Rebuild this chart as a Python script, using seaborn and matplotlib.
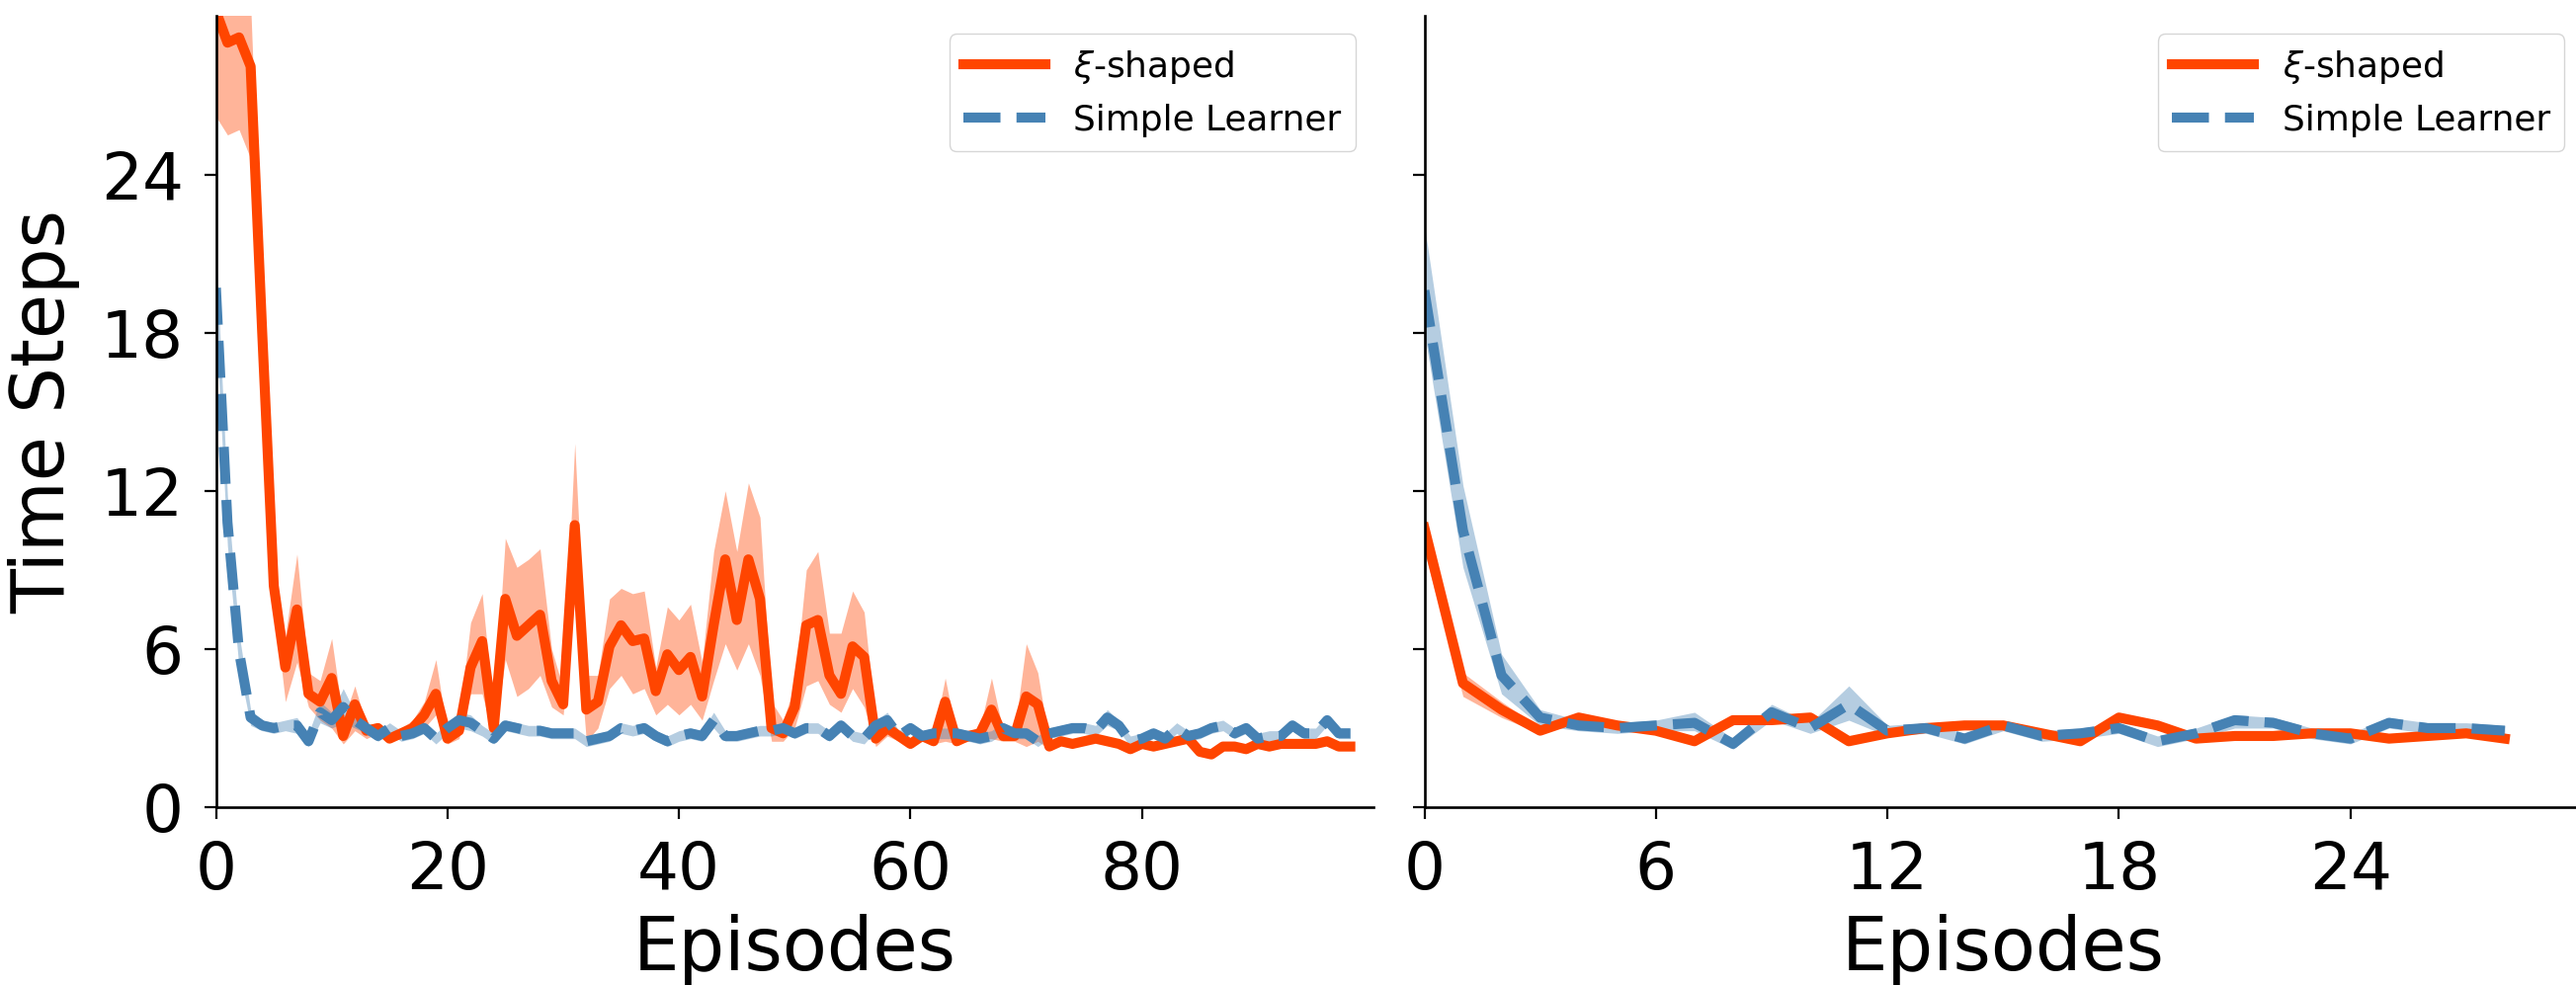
import numpy as np
import pandas as pd
import matplotlib
matplotlib.use("Agg")
import matplotlib.pyplot as plt
import seaborn as sns

# ---------------- data ----------------
labels = [r"$\xi$-shaped", "Simple Learner"]
colors = ["#FF4500", "#4682B4"]

# left panel: episodes 0..98
red_mid_L = [30.2, 29.0, 29.2, 28.1, 18.0, 8.4, 5.3, 7.5, 4.3, 4.0,
             4.9, 2.7, 3.9, 2.9, 3.0, 2.6, 2.8, 3.0, 3.5, 4.3,
             2.6, 2.9, 5.3, 6.3, 3.0, 7.9, 6.5, 6.9, 7.3, 4.8,
             3.9, 10.7, 3.7, 4.0, 6.1, 6.9, 6.3, 6.4, 4.4, 5.8,
             5.2, 5.7, 4.2, 6.9, 9.4, 7.1, 9.4, 7.9, 3.0, 2.8,
             3.8, 6.9, 7.1, 5.0, 4.3, 6.1, 5.7, 2.6, 3.0, 2.7,
             2.4, 2.7, 2.5, 4.0, 2.5, 2.7, 2.8, 3.7, 2.7, 2.7,
             4.2, 3.9, 2.3, 2.5, 2.4, 2.5, 2.6, 2.5, 2.4, 2.2,
             2.4, 2.3, 2.4, 2.5, 2.6, 2.1, 2.0, 2.3, 2.3, 2.2,
             2.4, 2.3, 2.4, 2.4, 2.4, 2.4, 2.5, 2.3, 2.3]
red_lo_L = [26.2, 25.5, 25.7, 24.6, 17.0, 7.8, 4.0, 5.5, 3.8, 3.3,
            3.0, 2.4, 2.9, 2.6, 2.8, 2.5, 2.6, 2.7, 3.0, 3.5,
            2.4, 2.6, 4.3, 4.3, 2.6, 5.6, 4.2, 4.5, 5.0, 3.8,
            3.5, 8.0, 2.5, 3.0, 4.5, 5.0, 4.3, 4.5, 3.5, 3.9,
            3.5, 3.9, 3.3, 4.8, 6.2, 5.2, 6.2, 5.0, 2.5, 2.5,
            3.0, 4.6, 4.8, 3.9, 3.6, 4.5, 3.8, 2.3, 2.7, 2.5,
            2.3, 2.5, 2.4, 2.5, 2.4, 2.5, 2.6, 2.6, 2.5, 2.5,
            2.3, 2.5, 2.2, 2.4, 2.3, 2.4, 2.5, 2.4, 2.3, 2.1,
            2.3, 2.2, 2.3, 2.4, 2.5, 2.0, 1.9, 2.2, 2.2, 2.1,
            2.3, 2.2, 2.3, 2.3, 2.3, 2.3, 2.4, 2.2, 2.2]
red_hi_L = [32.0, 32.0, 32.0, 30.5, 19.0, 9.0, 6.5, 9.6, 5.1, 4.8,
            6.4, 3.3, 4.6, 3.1, 3.2, 2.7, 3.0, 3.3, 4.0, 5.6,
            2.8, 3.3, 7.0, 8.1, 3.5, 10.2, 9.1, 9.4, 9.8, 6.0,
            4.5, 13.8, 5.0, 5.0, 7.9, 8.3, 8.1, 8.2, 5.3, 7.6,
            7.1, 7.7, 5.5, 9.7, 12.0, 9.7, 12.3, 11.0, 4.0, 3.3,
            4.6, 9.0, 9.7, 6.6, 6.6, 8.2, 7.4, 3.2, 3.4, 2.9,
            2.6, 2.9, 2.7, 4.9, 2.7, 2.9, 3.0, 4.9, 2.9, 2.9,
            6.2, 5.1, 2.4, 2.6, 2.5, 2.6, 2.7, 2.6, 2.5, 2.3,
            2.5, 2.4, 2.5, 2.6, 2.7, 2.2, 2.1, 2.4, 2.4, 2.3,
            2.5, 2.4, 2.5, 2.5, 2.5, 2.5, 2.6, 2.4, 2.4]

blue_mid_L = [19.7, 10.8, 5.9, 3.4, 3.1, 3.0, 3.1, 3.1, 2.5, 3.6,
              3.3, 3.8, 3.3, 3.0, 2.7, 3.0, 2.7, 2.8, 3.0, 2.6,
              3.0, 3.3, 3.2, 2.9, 2.6, 3.1, 3.0, 2.9, 2.9, 2.8,
              2.8, 2.8, 2.5, 2.6, 2.7, 3.0, 2.9, 3.0, 2.7, 2.5,
              2.7, 2.8, 2.7, 3.3, 2.7, 2.7, 2.8, 2.9, 2.9, 3.0,
              2.8, 3.0, 3.0, 2.7, 3.1, 2.7, 2.6, 3.1, 3.3, 2.7,
              3.0, 2.7, 2.8, 2.8, 2.8, 2.7, 2.6, 2.7, 3.0, 2.8,
              2.8, 2.5, 2.8, 2.9, 3.0, 3.0, 2.9, 3.4, 3.1, 2.5,
              2.6, 2.8, 2.6, 3.0, 2.7, 2.8, 3.0, 3.1, 2.8, 3.0,
              2.6, 2.7, 2.7, 3.1, 2.8, 2.8, 3.3, 2.8, 2.8]
blue_lo_L = [18.3, 9.9, 5.3, 3.1, 2.9, 2.8, 2.9, 2.8, 2.3, 3.2,
             3.0, 3.2, 3.0, 2.8, 2.5, 2.8, 2.5, 2.6, 2.8, 2.4,
             2.8, 3.0, 2.9, 2.7, 2.4, 2.9, 2.8, 2.7, 2.7, 2.6,
             2.6, 2.6, 2.3, 2.4, 2.5, 2.8, 2.7, 2.8, 2.5, 2.3,
             2.5, 2.6, 2.5, 3.0, 2.5, 2.5, 2.6, 2.7, 2.7, 2.8,
             2.6, 2.8, 2.8, 2.5, 2.9, 2.5, 2.4, 2.9, 3.0, 2.5,
             2.8, 2.5, 2.6, 2.6, 2.6, 2.5, 2.4, 2.5, 2.8, 2.6,
             2.6, 2.3, 2.6, 2.7, 2.8, 2.8, 2.7, 3.1, 2.9, 2.3,
             2.4, 2.6, 2.4, 2.8, 2.5, 2.6, 2.8, 2.9, 2.6, 2.8,
             2.4, 2.5, 2.5, 2.9, 2.6, 2.6, 3.1, 2.6, 2.6]
blue_hi_L = [21.2, 11.8, 6.6, 3.7, 3.3, 3.2, 3.3, 3.4, 2.8, 4.0,
             3.6, 4.5, 3.6, 3.2, 2.9, 3.2, 2.9, 3.0, 3.2, 2.8,
             3.2, 3.6, 3.5, 3.1, 2.8, 3.3, 3.2, 3.1, 3.1, 3.0,
             3.0, 3.0, 2.7, 2.8, 2.9, 3.2, 3.1, 3.2, 2.9, 2.7,
             2.9, 3.0, 2.9, 3.6, 2.9, 2.9, 3.0, 3.1, 3.1, 3.2,
             3.0, 3.2, 3.2, 2.9, 3.3, 2.9, 2.8, 3.3, 3.6, 2.9,
             3.2, 2.9, 3.0, 3.0, 3.0, 2.9, 2.8, 2.9, 3.2, 3.0,
             3.0, 2.7, 3.0, 3.1, 3.2, 3.2, 3.1, 3.7, 3.3, 2.7,
             2.8, 3.0, 2.8, 3.2, 2.9, 3.0, 3.2, 3.3, 3.0, 3.2,
             2.8, 2.9, 2.9, 3.3, 3.0, 3.0, 3.5, 3.0, 3.0]

# right panel: episodes 0..28
red_mid_R = [10.6, 4.7, 3.7, 2.9, 3.4, 3.1, 2.9, 2.5, 3.3, 3.3,
             3.4, 2.5, 2.8, 3.0, 3.1, 3.1, 2.8, 2.5, 3.4, 3.1,
             2.6, 2.7, 2.7, 2.8, 2.8, 2.6, 2.7, 2.8, 2.6]
red_lo_R = [9.7, 4.2, 3.4, 2.8, 3.3, 3.0, 2.8, 2.4, 3.2, 3.2,
            3.3, 2.4, 2.7, 2.9, 3.0, 3.0, 2.7, 2.4, 3.3, 3.0,
            2.5, 2.6, 2.6, 2.7, 2.7, 2.5, 2.6, 2.7, 2.5]
red_hi_R = [11.1, 5.1, 4.0, 3.0, 3.5, 3.2, 3.0, 2.6, 3.4, 3.4,
            3.5, 2.6, 2.9, 3.1, 3.2, 3.2, 2.9, 2.6, 3.5, 3.2,
            2.7, 2.8, 2.8, 2.9, 2.9, 2.7, 2.8, 2.9, 2.7]

blue_mid_R = [19.6, 10.5, 5.0, 3.4, 3.1, 3.0, 3.1, 3.2, 2.4, 3.6,
              3.0, 3.9, 2.9, 3.0, 2.6, 3.1, 2.7, 2.8, 3.0, 2.5,
              2.8, 3.3, 3.2, 2.8, 2.6, 3.2, 3.0, 3.0, 2.9]
blue_lo_R = [18.0, 9.1, 4.3, 3.1, 2.9, 2.8, 2.9, 2.9, 2.2, 3.3,
             2.8, 3.3, 2.7, 2.8, 2.4, 2.9, 2.5, 2.6, 2.8, 2.3,
             2.6, 3.0, 3.0, 2.6, 2.4, 3.0, 2.8, 2.8, 2.7]
blue_hi_R = [22.1, 12.2, 5.8, 3.7, 3.3, 3.2, 3.3, 3.6, 2.6, 3.9,
             3.2, 4.6, 3.1, 3.2, 2.8, 3.3, 2.9, 3.0, 3.2, 2.7,
             3.0, 3.5, 3.4, 3.0, 2.8, 3.4, 3.2, 3.2, 3.1]

xticks_L = [0, 20, 40, 60, 80]
xticks_R = [0, 6, 12, 18, 24]
yticks = [0, 6, 12, 18, 24]
xlabel = "Episodes"
ylabel = "Time Steps"


def long_frame(mid, lo, hi):
    n = len(mid)
    ep = np.tile(np.arange(n), 3)
    val = np.concatenate([lo, mid, hi])
    return pd.DataFrame({"episode": ep, "value": val})


# ---------------- figure ----------------
W, H = 2607, 997
fig = plt.figure(figsize=(W / 100, H / 100), dpi=100)
bottom = (H - 817) / H
height = (817 - 16.5) / H
width = 1171.5 / W
axL = fig.add_axes([218.5 / W, bottom, width, height])
axR = fig.add_axes([1441.5 / W, bottom, width, height], sharey=axL)

LW = 7.3

panels = [
    (axL, [(red_mid_L, red_lo_L, red_hi_L), (blue_mid_L, blue_lo_L, blue_hi_L)], 100, xticks_L),
    (axR, [(red_mid_R, red_lo_R, red_hi_R), (blue_mid_R, blue_lo_R, blue_hi_R)], 30, xticks_R),
]

for ax, series, xmax, xt in panels:
    for i, (mid, lo, hi) in enumerate(series):
        df = long_frame(mid, lo, hi)
        sns.lineplot(data=df, x="episode", y="value", ax=ax,
                     estimator="median", errorbar=("pi", 100),
                     color=colors[i], linewidth=LW,
                     linestyle="-" if i == 0 else "--",
                     err_kws={"alpha": 0.4, "linewidth": 0},
                     label=labels[i])
    ax.set_xlim(0, xmax)
    ax.set_ylim(0, 30)
    ax.set_xticks(xt)
    ax.set_yticks(yticks)
    ax.tick_params(axis="both", labelsize=47.5, length=8.5, width=1.6, pad=15)
    for sp in ax.spines.values():
        sp.set_linewidth(1.9)
    ax.set_xlabel(xlabel, fontsize=53, labelpad=8)
    ax.set_ylabel("")
    ax.legend(loc="upper right", fontsize=25.8, handlelength=2.3)
    sns.despine(ax=ax)

axL.set_ylabel(ylabel, fontsize=53, labelpad=15)
plt.setp(axR.get_yticklabels(), visible=False)

fig.savefig("out.png", dpi=100)
